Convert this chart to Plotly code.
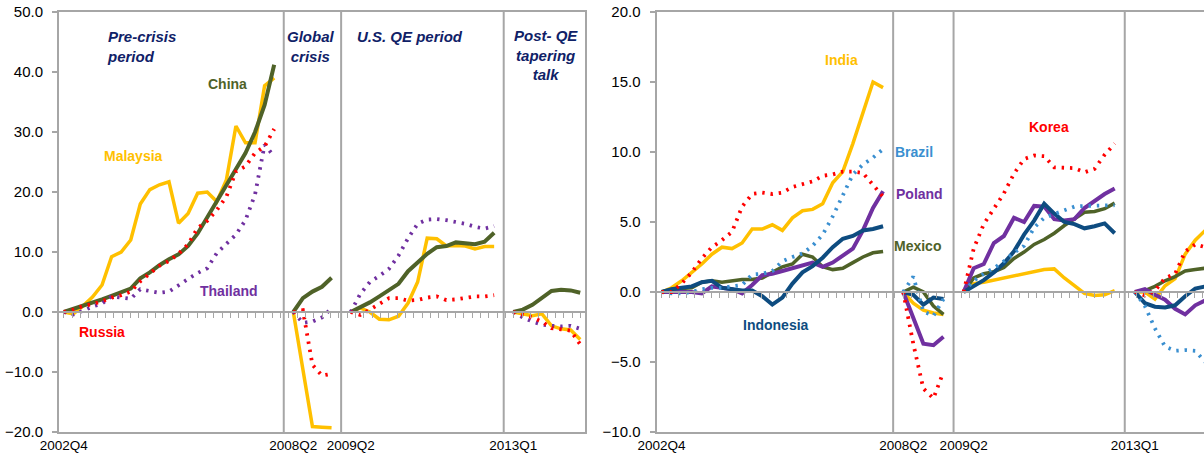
import plotly.graph_objects as go

# ---------------- data ----------------
# Segment labels (first quarter of each segment)
seg_labels = ["2002Q4", "2008Q2", "2009Q2", "2013Q1"]

# Left panel: cumulative change, percent
malaysia_pre = [0, -0.3, 1.0, 2.5, 4.5, 9.2, 10.0, 12.0, 18.0, 20.4, 21.2, 21.7, 14.8, 16.4, 19.8, 20.0, 18.4, 22.0, 31.0, 28.2, 28.2, 37.7, 39.0]
malaysia_cr = [0, -9.8, -19.1, -19.2, -19.3]
malaysia_qe = [0, 0.7, 0.0, -1.2, -1.3, -0.7, 1.5, 5.0, 12.3, 12.2, 11.0, 11.1, 11.0, 10.5, 10.9, 10.9]
malaysia_post = [0, -0.3, -0.6, -0.3, -2.3, -2.8, -3.0, -4.6]

china_pre = [0, 0.5, 1.0, 1.6, 2.1, 2.7, 3.3, 3.9, 5.6, 6.6, 7.8, 8.8, 9.6, 11.0, 13.1, 15.8, 18.4, 21.0, 23.6, 26.5, 30.0, 34.5, 41.2]
china_cr = [0, 2.3, 3.4, 4.2, 5.7]
china_qe = [0, 0.8, 1.6, 2.6, 3.7, 4.7, 6.8, 8.3, 9.7, 10.8, 11.0, 11.6, 11.4, 11.3, 11.7, 13.2]
china_post = [0, 0.4, 1.2, 2.4, 3.5, 3.7, 3.6, 3.2]

russia_pre = [0, 0.4, 1.0, 1.3, 1.8, 2.4, 2.8, 3.4, 5.1, 6.5, 7.7, 8.5, 9.7, 11.3, 14.0, 15.2, 17.0, 19.2, 23.4, 24.3, 26.5, 27.6, 30.5]
russia_cr = [0, 0.3, -8.8, -10.6, -10.3]
russia_qe = [0, -0.5, 0.4, 1.3, 2.3, 2.3, 1.9, 2.0, 2.4, 2.6, 2.0, 2.1, 2.4, 2.6, 2.6, 2.8]
russia_post = [0, -0.4, -0.9, -1.6, -2.7, -2.9, -3.1, -5.4]

thailand_pre = [0, -0.4, 0.2, 0.9, 1.4, 2.6, 2.4, 2.2, 3.8, 3.5, 3.2, 3.4, 4.5, 5.5, 6.5, 7.3, 9.8, 11.4, 12.9, 15.3, 19.6, 27.9, 25.9]
thailand_cr = [0, -1.8, -1.6, -0.9, 0.6]
thailand_qe = [0, 3.0, 5.0, 6.0, 7.2, 9.4, 12.3, 14.7, 15.4, 15.5, 15.3, 15.0, 14.7, 14.2, 13.9, 14.3]
thailand_post = [0, -0.9, -1.6, -2.1, -2.3, -2.4, -2.3, -2.8]

# Right panel
india_pre = [0, 0.3, 0.8, 1.4, 2.0, 2.7, 3.2, 3.1, 3.5, 4.5, 4.5, 4.8, 4.4, 5.3, 5.8, 5.9, 6.3, 7.8, 8.6, 10.6, 12.8, 15.0, 14.6]
india_cr = [0, -0.8, -1.3, -1.5, -1.6]
india_qe = [0, 0.6, 0.7, 0.85, 0.95, 1.1, 1.25, 1.4, 1.6, 1.65, 1.0, 0.45, -0.1, -0.25, -0.2, 0.1]
india_post = [0, 0.0, -0.5, 0.45, 0.95, 2.7, 3.7, 4.4]

korea_pre = [0, 0.0, 0.6, 1.4, 2.4, 3.2, 3.7, 4.3, 6.1, 7.0, 7.1, 7.0, 7.1, 7.5, 7.7, 7.9, 8.3, 8.4, 8.6, 8.6, 8.5, 7.7, 6.8]
korea_cr = [0, -3.7, -6.9, -7.6, -5.7]
korea_qe = [0, 3.1, 4.85, 6.0, 7.05, 8.45, 9.5, 9.75, 9.7, 8.9, 8.85, 8.85, 8.55, 8.8, 9.8, 10.6]
korea_post = [0, -0.25, 0.1, 1.0, 1.3, 2.9, 3.4, 3.2]

brazil_pre = [0, -0.1, -0.1, 0.0, 0.2, 0.3, 0.3, 0.4, 0.5, 1.25, 1.3, 1.5, 2.2, 2.5, 2.75, 3.3, 4.1, 5.4, 6.9, 8.4, 9.1, 9.6, 10.2]
brazil_cr = [0, 1.1, -1.4, -1.7, -0.5]
brazil_qe = [0, 0.8, 1.3, 1.7, 2.2, 2.8, 3.3, 4.6, 5.3, 5.55, 5.8, 6.1, 6.15, 6.15, 6.15, 6.2]
brazil_post = [0, -1.0, -2.6, -3.9, -4.2, -4.15, -4.2, -5.0]

poland_pre = [0, 0.0, 0.0, 0.0, -0.1, 0.4, 0.3, 0.2, -0.1, 0.5, 1.2, 1.3, 1.5, 1.7, 1.9, 2.1, 1.8, 2.1, 2.6, 3.1, 4.4, 6.0, 7.2]
poland_cr = [0, -1.8, -3.7, -3.8, -3.2]
poland_qe = [0, 1.7, 2.0, 3.5, 4.0, 5.3, 5.0, 6.15, 6.1, 5.2, 5.1, 5.2, 6.0, 6.5, 7.0, 7.4]
poland_post = [0, 0.2, -0.2, -0.55, -1.2, -1.6, -0.95, -0.6]

mexico_pre = [0, 0.2, 0.25, 0.3, 0.7, 0.8, 0.7, 0.8, 0.9, 0.9, 1.0, 1.4, 1.8, 2.0, 2.7, 2.5, 1.8, 1.6, 1.7, 2.1, 2.5, 2.8, 2.9]
mexico_cr = [0, 0.35, 0.0, -1.0, -1.6]
mexico_qe = [0, 1.0, 1.3, 1.45, 1.75, 2.4, 2.85, 3.4, 3.75, 4.2, 4.75, 5.2, 5.7, 5.75, 5.95, 6.35]
mexico_post = [0, 0.1, 0.4, 0.8, 1.1, 1.5, 1.6, 1.7]

indonesia_pre = [0, 0.2, 0.3, 0.4, 0.7, 0.8, 0.3, 0.2, 0.1, 0.1, -0.3, -0.9, -0.4, 0.6, 1.4, 1.85, 2.45, 3.2, 3.8, 4.0, 4.4, 4.5, 4.7]
indonesia_cr = [0, -0.2, -0.9, -0.4, -0.5]
indonesia_qe = [0, 0.4, 0.85, 1.4, 2.05, 2.9, 4.1, 5.1, 6.3, 5.6, 5.0, 4.85, 4.55, 4.7, 4.9, 4.2]
indonesia_post = [0, -0.8, -1.05, -1.1, -0.95, -0.3, 0.25, 0.4]

# ---------------- helpers ----------------
def join(*segs):
    out = []
    for k, s in enumerate(segs):
        if k:
            out.append(None)
        out.extend(s)
    return out

seg_lens = [len(malaysia_pre), len(malaysia_cr), len(malaysia_qe), len(malaysia_post)]
seg_starts, gaps = [], []
pos = 0
for k, n in enumerate(seg_lens):
    seg_starts.append(pos)
    pos += n
    if k < len(seg_lens) - 1:
        gaps.append(pos)
        pos += 1
n_total = pos
x_idx = list(range(n_total))

YELLOW = "#FFC000"
GREEN = "#4F6228"
PURPLE = "#7030A0"
RED = "#FF0000"
BLUE = "#3A8FD0"
NAVY = "#0E4C80"
TITLE = "#0F2167"
GRAY = "#A6A6A6"
FONT = "Liberation Sans, Arial, sans-serif"
DOT = "2.4px,5.9px"

fig = go.Figure()

def add(y, color, xa, ya, dotted=False, width=3.5):
    fig.add_trace(go.Scatter(
        x=x_idx, y=y, mode="lines", xaxis=xa, yaxis=ya,
        line=dict(color=color, width=(3.8 if dotted else width), dash=DOT if dotted else "solid"),
        connectgaps=False, showlegend=False, hoverinfo="skip"))

# left panel
add(join(malaysia_pre, malaysia_cr, malaysia_qe, malaysia_post), YELLOW, "x", "y")
add(join(china_pre, china_cr, china_qe, china_post), GREEN, "x", "y", width=4)
add(join(thailand_pre, thailand_cr, thailand_qe, thailand_post), PURPLE, "x", "y", dotted=True)
add(join(russia_pre, russia_cr, russia_qe, russia_post), RED, "x", "y", dotted=True)

# right panel
add(join(india_pre, india_cr, india_qe, india_post), YELLOW, "x2", "y2")
add(join(mexico_pre, mexico_cr, mexico_qe, mexico_post), GREEN, "x2", "y2")
add(join(poland_pre, poland_cr, poland_qe, poland_post), PURPLE, "x2", "y2", width=4)
add(join(indonesia_pre, indonesia_cr, indonesia_qe, indonesia_post), NAVY, "x2", "y2", width=4)
add(join(brazil_pre, brazil_cr, brazil_qe, brazil_post), BLUE, "x2", "y2", dotted=True)
add(join(korea_pre, korea_cr, korea_qe, korea_post), RED, "x2", "y2", dotted=True)

# invisible traces to carry zero-line axes
fig.add_trace(go.Scatter(x=[0], y=[0], xaxis="x3", yaxis="y", mode="lines",
                         line=dict(width=0), showlegend=False, hoverinfo="skip"))
fig.add_trace(go.Scatter(x=[0], y=[0], xaxis="x4", yaxis="y2", mode="lines",
                         line=dict(width=0), showlegend=False, hoverinfo="skip"))

W, H = 1204, 462
L_dom = [59 / W, 585 / W]
R_dom = [656.5 / W, 1.0]
L_range = [-0.5, n_total - 0.5]
R_range = [-0.5, (W - 656.5) / 10.07 - 0.5]

L_yr = [-20, 50]
R_yr = [-10, 20]

tickfont = dict(family=FONT, size=13.5, color="#000000")
ytickfont = dict(family=FONT, size=15, color="#000000")

common_x = dict(showgrid=False, zeroline=False, showline=True, linecolor=GRAY, linewidth=2,
                mirror=True, ticks="", tickmode="array",
                tickvals=seg_starts, ticktext=seg_labels, tickfont=tickfont)
common_y = dict(showgrid=False, zeroline=False, showline=True, linecolor=GRAY, linewidth=2,
                ticks="outside", ticklen=5, tickcolor=GRAY, tickwidth=1.5,
                tickformat=".1f", tickfont=ytickfont, ticklabelstandoff=6)

zero_axis = dict(anchor="free", showline=True, linecolor=GRAY, linewidth=1.5,
                 ticks="outside", ticklen=5, tickcolor=GRAY, tickwidth=1.2,
                 tickmode="linear", tick0=0, showticklabels=False,
                 showgrid=False, zeroline=False)

fig.update_layout(
    width=W, height=H,
    margin=dict(l=0, r=0, t=12, b=30, autoexpand=False),
    paper_bgcolor="white", plot_bgcolor="white",
    showlegend=False,
    xaxis=dict(domain=L_dom, range=L_range, anchor="y", **common_x),
    yaxis=dict(domain=[0, 1], range=L_yr, dtick=10, anchor="x", mirror=True, **common_y),
    xaxis2=dict(domain=R_dom, range=R_range, anchor="y2", **common_x),
    yaxis2=dict(domain=[0, 1], range=R_yr, dtick=5, anchor="x2", mirror=False, **common_y),
    xaxis3=dict(overlaying="x", domain=L_dom, range=L_range,
                position=(0 - L_yr[0]) / (L_yr[1] - L_yr[0]), dtick=8.33 / 9.56, **zero_axis),
    xaxis4=dict(overlaying="x2", domain=R_dom, range=R_range,
                position=(0 - R_yr[0]) / (R_yr[1] - R_yr[0]), dtick=8.33 / 10.07, **zero_axis),
)

# segment dividers
for g in gaps:
    for xr in ("x", "x2"):
        fig.add_shape(type="line", xref=xr, yref="paper", x0=g, x1=g, y0=0, y1=1,
                      line=dict(color=GRAY, width=2))

def period(text, x, y, xref, yref, xanchor="center", align="center"):
    fig.add_annotation(text=f"<b><i>{text}</i></b>", x=x, y=y, xref=xref, yref=yref,
                       xanchor=xanchor, yanchor="top", align=align, showarrow=False,
                       font=dict(family=FONT, size=15, color=TITLE))

period("Pre-crisis<br>period", 4.3, 47.6, "x", "y", xanchor="left", align="left")
period("Global<br>crisis", 25.9, 47.6, "x", "y")
period("U.S. QE period", 30.4, 47.6, "x", "y", xanchor="left", align="left")
period("Post- QE<br>tapering<br>talk", 50.4, 47.9, "x", "y")

def label(text, x, y, xref, yref, color):
    fig.add_annotation(text=f"<b>{text}</b>", x=x, y=y, xref=xref, yref=yref,
                       showarrow=False, xanchor="center", yanchor="middle",
                       font=dict(family=FONT, size=14, color=color))

label("China", 17.1, 38.0, "x", "y", GREEN)
label("Malaysia", 7.3, 26.0, "x", "y", YELLOW)
label("Thailand", 17.3, 3.5, "x", "y", PURPLE)
label("Russia", 3.95, -3.4, "x", "y", RED)

label("India", 17.9, 16.6, "x2", "y2", YELLOW)
label("Brazil", 25.1, 10.0, "x2", "y2", BLUE)
label("Poland", 25.6, 7.0, "x2", "y2", PURPLE)
label("Mexico", 25.4, 3.3, "x2", "y2", GREEN)
label("Korea", 38.5, 11.8, "x2", "y2", RED)
label("Indonesia", 11.4, -2.35, "x2", "y2", NAVY)

fig.write_html("out.html", config={"displayModeBar": False},
               post_script="document.body.style.margin='0px';document.body.style.overflow='hidden';")
